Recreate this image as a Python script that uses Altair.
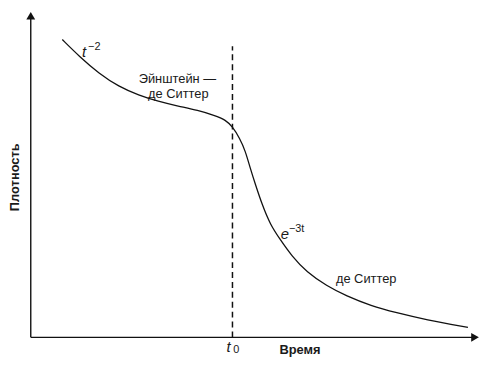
import altair as alt
import pandas as pd

# Curve: time vs density (arbitrary units)
time_vals = [0.71, 1.09, 1.54, 1.98, 2.43, 2.87, 3.32, 3.76, 4.14, 4.39, 4.54, 4.70, 4.83,
             4.94, 5.06, 5.21, 5.39, 5.61, 5.88, 6.21, 6.66, 7.10, 7.66, 8.22, 8.89, 9.84]
density_vals = [9.26, 8.74, 8.20, 7.80, 7.53, 7.34, 7.19, 7.06, 6.90, 6.76, 6.55, 6.20, 5.80,
                5.26, 4.74, 4.12, 3.51, 3.05, 2.52, 2.03, 1.60, 1.29, 0.98, 0.77, 0.55, 0.31]

t0 = 4.54
t0_top = 9.05
x_max = 10
y_max = 10

# Annotation labels
lab_text = ["t", "−2", "Эйнштейн —", "де Ситтер", "e", "−3t", "де Ситтер", "t", "0"]
lab_t = [1.20, 1.29, 3.30, 3.32, 5.72, 5.81, 7.55, 4.45, 4.56]
lab_d = [8.86, 9.04, 8.03, 7.57, 3.20, 3.37, 1.82, -0.31, -0.40]
lab_kind = ["it", "sup", "txt", "txt", "it", "sup", "txt", "it", "sup"]

xs = alt.Scale(domain=[0, x_max], nice=False, zero=False)
ys = alt.Scale(domain=[0, y_max], nice=False, zero=False)

curve_df = pd.DataFrame({"t": time_vals, "d": density_vals})
curve = alt.Chart(curve_df).mark_line(color="#111", strokeWidth=1.3, interpolate="basis").encode(
    x=alt.X("t:Q", scale=xs, axis=None),
    y=alt.Y("d:Q", scale=ys, axis=None),
)

dash_df = pd.DataFrame({"t": [t0, t0], "d": [0, t0_top]})
dash = alt.Chart(dash_df).mark_line(color="#111", strokeWidth=1.5, strokeDash=[6, 4]).encode(
    x=alt.X("t:Q", scale=xs, axis=None), y=alt.Y("d:Q", scale=ys, axis=None)
)

yaxis_df = pd.DataFrame({"t": [0, 0], "d": [0, y_max]})
yaxis = alt.Chart(yaxis_df).mark_line(color="#111", strokeWidth=1.4).encode(
    x=alt.X("t:Q", scale=xs, axis=None), y=alt.Y("d:Q", scale=ys, axis=None)
)
xaxis_df = pd.DataFrame({"t": [0, x_max], "d": [0, 0]})
xaxis = alt.Chart(xaxis_df).mark_line(color="#111", strokeWidth=1.4).encode(
    x=alt.X("t:Q", scale=xs, axis=None), y=alt.Y("d:Q", scale=ys, axis=None)
)

arr_df = pd.DataFrame({"t": [0, x_max], "d": [y_max, 0], "shape": ["triangle-up", "triangle-right"]})
arrows = alt.Chart(arr_df).mark_point(filled=True, color="#111", opacity=1, size=80).encode(
    x=alt.X("t:Q", scale=xs, axis=None), y=alt.Y("d:Q", scale=ys, axis=None),
    shape=alt.Shape("shape:N", scale=None, legend=None),
)

lab_df = pd.DataFrame({"t": lab_t, "d": lab_d, "s": lab_text, "k": lab_kind})
base_lab = alt.Chart(lab_df).encode(
    x=alt.X("t:Q", scale=xs, axis=None), y=alt.Y("d:Q", scale=ys, axis=None), text="s:N"
)
lab_it = base_lab.mark_text(font="Liberation Sans", fontSize=15, fontStyle="italic", align="center",
                            baseline="middle", color="#1a1a1a").transform_filter(alt.datum.k == "it")
lab_sup = base_lab.mark_text(font="Liberation Sans", fontSize=11, align="left",
                             baseline="middle", color="#1a1a1a").transform_filter(alt.datum.k == "sup")
lab_txt = base_lab.mark_text(font="Liberation Sans", fontSize=13, align="center",
                             baseline="middle", color="#1a1a1a").transform_filter(alt.datum.k == "txt")

# Axis titles
title_df = pd.DataFrame({"t": [6.06, -0.36], "d": [-0.40, 4.98], "s": ["Время", "Плотность"], "a": [0, 270]})
base_title = alt.Chart(title_df).encode(
    x=alt.X("t:Q", scale=xs, axis=None), y=alt.Y("d:Q", scale=ys, axis=None), text="s:N"
)
x_title = base_title.mark_text(font="Liberation Sans", fontSize=13, fontWeight="bold", align="center",
                               baseline="middle", color="#1a1a1a").transform_filter(alt.datum.a == 0)
y_title = base_title.mark_text(font="Liberation Sans", fontSize=13, fontWeight="bold", align="center",
                               baseline="middle", angle=270, color="#1a1a1a").transform_filter(alt.datum.a == 270)

chart = alt.layer(yaxis, xaxis, arrows, dash, curve, lab_it, lab_sup, lab_txt, x_title, y_title).properties(
    width=449, height=325,
    autosize=alt.AutoSizeParams(type="none"),
    padding={"left": 23, "top": 6, "right": 4, "bottom": 20},
    background="white",
).configure_view(strokeWidth=0)

chart.save("out.html", embed_options={"renderer": "svg", "actions": False})
